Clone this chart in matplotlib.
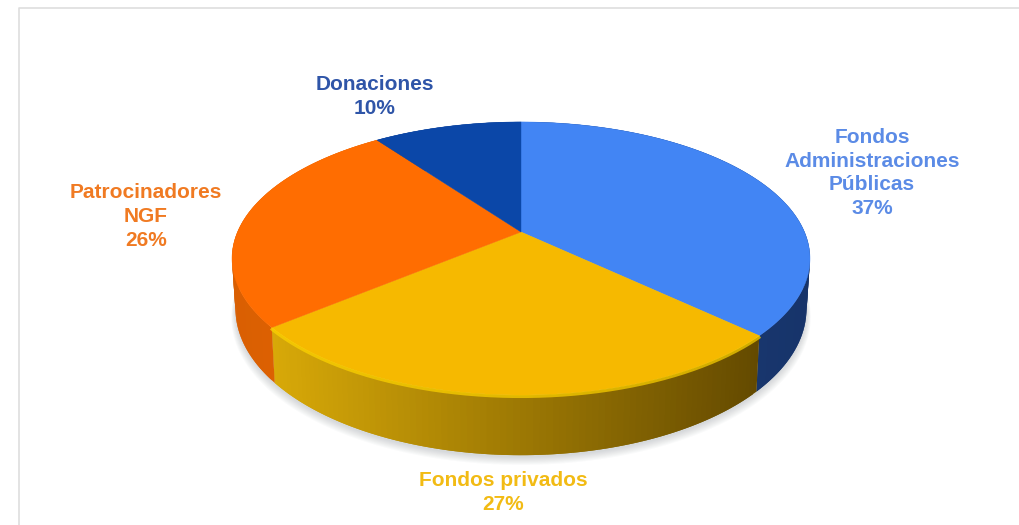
import numpy as np
import matplotlib
matplotlib.use("Agg")
import matplotlib.pyplot as plt
from matplotlib.colors import to_rgb

# Chart data, clockwise from 12 o'clock
labels = ["Fondos\nAdministraciones\nPúblicas", "Fondos privados", "Patrocinadores\nNGF", "Donaciones"]
shares = [37, 27, 26, 10]
face_colors = ["#4285F4", "#F6B900", "#FF6D01", "#0B47A8"]
text_colors = ["#5B8BE6", "#F2BB14", "#F07A22", "#2F55A8"]
label_pos = [(872, 173), (503, 492.5), (146, 216.5), (375, 96.5)]

# Pie placement in pixels, the disc is drawn with a simple perspective
cx, cy = 521, 232
a, b, k = 283.5, 131.4, 0.194
depth = 48.5


def project(theta, drop=0.0, scale=1.0):
    X = np.sin(theta)
    Y = np.cos(theta)
    w = 1 + k * Y
    return cx + scale * a * X / w, cy - b * Y / w + drop / w


def wall_color(name, t):
    # t is 0 at the left of the slice and 1 at the right
    stops = {
        0: ("#1C3F7C", "#17346A"),
        1: ("#D8A908", "#644A00"),
        2: ("#D95F02", "#E66503"),
        3: ("#0B3A8A", "#0B3A8A"),
    }[name]
    c0, c1 = np.array(to_rgb(stops[0])), np.array(to_rgb(stops[1]))
    return c0 + (c1 - c0) * t


fig = plt.figure(figsize=(10.2, 5.25), dpi=100)
ax = fig.add_axes([0, 0, 1, 1])
ax.set_xlim(0, 1020)
ax.set_ylim(525, 0)
ax.axis("off")

# panel border
ax.plot([19, 19, 1020], [525, 8, 8], color="#DEDEDE", lw=1.2, zorder=1)

# soft shadow below the disc
full = np.linspace(0, 2 * np.pi, 300)
for grow in np.linspace(7, 1, 8):
    sx, sy = project(full, depth + grow, 0.985 + grow / 400)
    ax.fill(sx, sy + 1, color="#5A6470", alpha=0.03, lw=0, zorder=2)

edges = np.cumsum([0] + shares) / sum(shares) * 2 * np.pi

# side walls, split in thin strips for the gradient
for i in range(len(shares)):
    th = np.linspace(edges[i], edges[i + 1], 90)
    top_x, top_y = project(th)
    low_x, low_y = project(th, depth, 0.988)
    x_min, x_max = top_x.min(), top_x.max()
    for j in range(len(th) - 1):
        t = ((top_x[j] + top_x[j + 1]) / 2 - x_min) / (x_max - x_min)
        # strips overlap a little so no seams show
        n = min(j + 2, len(th) - 1)
        ax.fill([top_x[j], top_x[n], low_x[n], low_x[j]],
                [top_y[j], top_y[n], low_y[n], low_y[j]],
                color=wall_color(i, t), lw=0, zorder=3)

# top faces
for i in range(len(shares)):
    th = np.linspace(edges[i], edges[i + 1], 160)
    x, y = project(th)
    ax.fill(np.r_[cx, x], np.r_[cy, y], color=face_colors[i], lw=0.3, zorder=4)

# bright bevel on the front rim of the yellow slice
th = np.linspace(edges[1] - 0.005, edges[2] + 0.005, 200)
x, y = project(th)
ax.plot(x, y + 1.5, color="#FFD400", lw=2.2, alpha=0.7, zorder=5, solid_capstyle="butt")

for lab, share, col, (px, py) in zip(labels, shares, text_colors, label_pos):
    ax.text(px, py, f"{lab}\n{share}%", color=col, ha="center", va="center",
            family="Liberation Sans", fontweight="bold", fontsize=15,
            linespacing=1.33, zorder=6)

fig.savefig("out.png", dpi=100)
